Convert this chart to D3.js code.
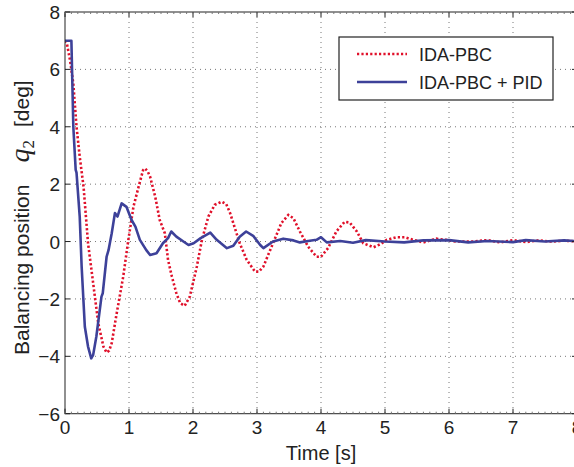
<!DOCTYPE html>
<meta charset="utf-8">
<style>
body { margin: 0; background: #fff; }
svg { display: block; font-family: "Liberation Sans", Arial, sans-serif; }
.grid line { stroke: #777; stroke-width: 1; stroke-dasharray: 1,4; }
.frame { fill: none; stroke: #222; stroke-width: 1; }
.tick-label { font-size: 19px; fill: #222; }
</style>
<svg width="574" height="467"></svg>
<script src="https://cdn.jsdelivr.net/npm/d3@7"></script>
<script>

// IDA-PBC (red dotted)
var tRed = [0, 0.03, 0.08, 0.13, 0.18, 0.23, 0.29, 0.36, 0.44, 0.52, 0.60, 0.65, 0.69, 0.73, 0.80, 0.91, 0.99,
  1.07, 1.15, 1.22, 1.25, 1.29, 1.33, 1.41, 1.48, 1.56, 1.61, 1.67, 1.74, 1.80, 1.87, 1.95, 2.06, 2.14, 2.24,
  2.34, 2.45, 2.52, 2.58, 2.68, 2.73, 2.84, 2.97, 3.03, 3.10, 3.25, 3.38, 3.49, 3.57, 3.67, 3.80, 3.93, 4.00,
  4.11, 4.24, 4.37, 4.45, 4.56, 4.66, 4.82, 4.92, 5.03, 5.18, 5.31, 5.44, 5.60, 5.80, 5.95, 6.10, 6.37, 6.60,
  6.80, 7.00, 7.20, 7.40, 7.60, 7.80, 8.00];
var qRed = [7.0, 6.9, 6.3, 5.5, 4.0, 2.96, 1.91, -0.06, -1.45, -2.85, -3.66, -3.87, -3.8, -3.54, -2.6, -1.22, 0.06,
  1.22, 1.91, 2.49, 2.55, 2.45, 2.26, 1.56, 0.75, 0.29, -0.64, -1.22, -1.8, -2.15, -2.24, -1.92, -0.87, 0.06, 0.87,
  1.28, 1.39, 1.3, 0.99, 0.29, -0.06, -0.64, -1.05, -1.05, -0.87, -0.06, 0.64, 0.93, 0.81, 0.35, -0.18, -0.53, -0.53,
  -0.23, 0.35, 0.69, 0.66, 0.35, -0.06, -0.2, -0.1, 0.06, 0.15, 0.15, 0.06, -0.03, 0.1, 0.06, 0.0, 0.0, 0.05,
  -0.03, 0.05, -0.02, 0.04, 0.0, 0.03, 0.0];

// IDA-PBC + PID (blue solid)
var tBlue = [0, 0.10, 0.13, 0.167, 0.18, 0.23, 0.26, 0.31, 0.36, 0.41, 0.44, 0.49, 0.57, 0.59, 0.65, 0.68, 0.73,
  0.78, 0.82, 0.885, 0.96, 1.04, 1.10, 1.17, 1.27, 1.33, 1.43, 1.53, 1.61, 1.66, 1.74, 1.85, 1.93, 2.01, 2.12,
  2.27, 2.37, 2.53, 2.63, 2.73, 2.83, 2.94, 3.05, 3.10, 3.25, 3.41, 3.57, 3.67, 3.80, 3.93, 4.00, 4.09, 4.30,
  4.50, 4.70, 5.00, 5.30, 5.60, 6.00, 6.30, 6.60, 7.00, 7.20, 7.50, 7.80, 8.00];
var qBlue = [7.0, 7.0, 4.0, 2.5, 2.4, 0.87, -0.87, -2.97, -3.66, -4.07, -3.95, -3.31, -1.92, -1.8, -0.53, -0.3, 0.29,
  0.99, 0.87, 1.33, 1.21, 0.75, 0.52, 0.06, -0.3, -0.47, -0.41, -0.06, 0.12, 0.35, 0.17, 0.0, -0.12, -0.06, 0.12,
  0.31, 0.06, -0.23, -0.15, 0.17, 0.35, 0.2, -0.12, -0.23, 0.0, 0.1, 0.04, -0.03, 0.02, 0.06, 0.15, -0.03, 0.02,
  -0.04, 0.05, 0.0, -0.03, 0.04, 0.05, -0.03, 0.02, -0.02, 0.05, 0.0, 0.04, 0.01];

var xTicks = [0, 1, 2, 3, 4, 5, 6, 7, 8];
var yTicks = [-6, -4, -2, 0, 2, 4, 6, 8];
var seriesNames = ["IDA-PBC", "IDA-PBC + PID"];

var svg = d3.select("svg");
var x = d3.scaleLinear().domain([0, 8]).range([65, 577]);
var y = d3.scaleLinear().domain([-6, 8]).range([413.7, 12]);
var x0 = x.range()[0], x1 = x.range()[1], y0 = y.range()[0], y1 = y.range()[1];

svg.append("rect").attr("width", 574).attr("height", 467).attr("fill", "#fff");

svg.append("clipPath").attr("id", "clip")
  .append("rect").attr("x", x0).attr("y", y1).attr("width", x1 - x0).attr("height", y0 - y1);

// grid
var grid = svg.append("g").attr("class", "grid");
grid.selectAll(".gx").data(xTicks.slice(1, -1)).enter().append("line")
    .attr("x1", d => x(d)).attr("x2", d => x(d)).attr("y1", y1).attr("y2", y0);
grid.selectAll(".gy").data(yTicks.slice(1, -1)).enter().append("line")
    .attr("x1", x0).attr("x2", x1).attr("y1", d => y(d)).attr("y2", d => y(d));

// curves
var line = d3.line().x(d => x(d[0])).y(d => y(d[1]));
var plot = svg.append("g").attr("clip-path", "url(#clip)");
plot.append("path")
    .datum(d3.zip(tRed, qRed))
    .attr("d", line)
    .attr("fill", "none").attr("stroke", "#e0102a").attr("stroke-width", 2.6)
    .attr("stroke-dasharray", "2.2,2.2");
plot.append("path")
    .datum(d3.zip(tBlue, qBlue))
    .attr("d", line)
    .attr("fill", "none").attr("stroke", "#3d4199").attr("stroke-width", 2.6)
    .attr("stroke-linejoin", "round");

// frame with inward ticks
svg.append("rect").attr("class", "frame")
    .attr("x", x0).attr("y", y1).attr("width", x1 - x0).attr("height", y0 - y1);

var ticks = svg.append("g").attr("stroke", "#222").attr("stroke-width", 1);
xTicks.forEach(function(d) {
  ticks.append("line").attr("x1", x(d)).attr("x2", x(d)).attr("y1", y0).attr("y2", y0 - 5);
  ticks.append("line").attr("x1", x(d)).attr("x2", x(d)).attr("y1", y1).attr("y2", y1 + 5);
});
yTicks.forEach(function(d) {
  ticks.append("line").attr("x1", x0).attr("x2", x0 + 5).attr("y1", y(d)).attr("y2", y(d));
  ticks.append("line").attr("x1", x1).attr("x2", x1 - 5).attr("y1", y(d)).attr("y2", y(d));
});
var minor = svg.append("g").attr("stroke", "#777").attr("stroke-width", 1);
d3.range(0, 8.001, 0.1).forEach(function(d) {
  minor.append("line").attr("x1", x(d)).attr("x2", x(d)).attr("y1", y0).attr("y2", y0 - 2);
  minor.append("line").attr("x1", x(d)).attr("x2", x(d)).attr("y1", y1).attr("y2", y1 + 2);
});

// tick labels
svg.selectAll(".xl").data(xTicks).enter().append("text")
    .attr("class", "tick-label")
    .attr("x", d => x(d)).attr("y", 434)
    .attr("text-anchor", "middle")
    .text(d => d);
svg.selectAll(".yl").data(yTicks).enter().append("text")
    .attr("class", "tick-label")
    .attr("x", 60).attr("y", d => y(d) + 7)
    .attr("text-anchor", "end")
    .text(d => d < 0 ? "\u2212" + Math.abs(d) : d);

// axis titles
svg.append("text")
    .attr("x", 321).attr("y", 460)
    .attr("text-anchor", "middle")
    .attr("font-size", 20).attr("fill", "#222")
    .text("Time [s]");

var yl = svg.append("text")
    .attr("transform", "translate(29,355) rotate(-90)")
    .attr("font-size", 21).attr("fill", "#222");
yl.append("tspan").text("Balancing position");
yl.append("tspan").attr("dx", 22).attr("font-family", "'Liberation Serif', serif")
    .attr("font-style", "italic").attr("font-size", 28).text("q");
yl.append("tspan").attr("dy", 5).attr("font-family", "'Liberation Serif', serif")
    .attr("font-size", 17).text("2");
yl.append("tspan").attr("dy", -5).attr("dx", 13).text("[deg]");

// legend
var lg = svg.append("g");
lg.append("rect").attr("x", 339).attr("y", 37).attr("width", 214).attr("height", 63)
    .attr("fill", "#fff").attr("stroke", "#222").attr("stroke-width", 1.2);
var legendColors = ["#e0102a", "#3d4199"];
var legendDash = ["2.2,2.2", null];
seriesNames.forEach(function(name, i) {
  var ly = 54 + i * 28;
  lg.append("line").attr("x1", 357).attr("x2", 407).attr("y1", ly).attr("y2", ly)
      .attr("stroke", legendColors[i]).attr("stroke-width", 2.6)
      .attr("stroke-dasharray", legendDash[i]);
  lg.append("text").attr("x", 419).attr("y", ly + 6.5)
      .attr("font-size", 18).attr("fill", "#222").text(name);
});

</script>
